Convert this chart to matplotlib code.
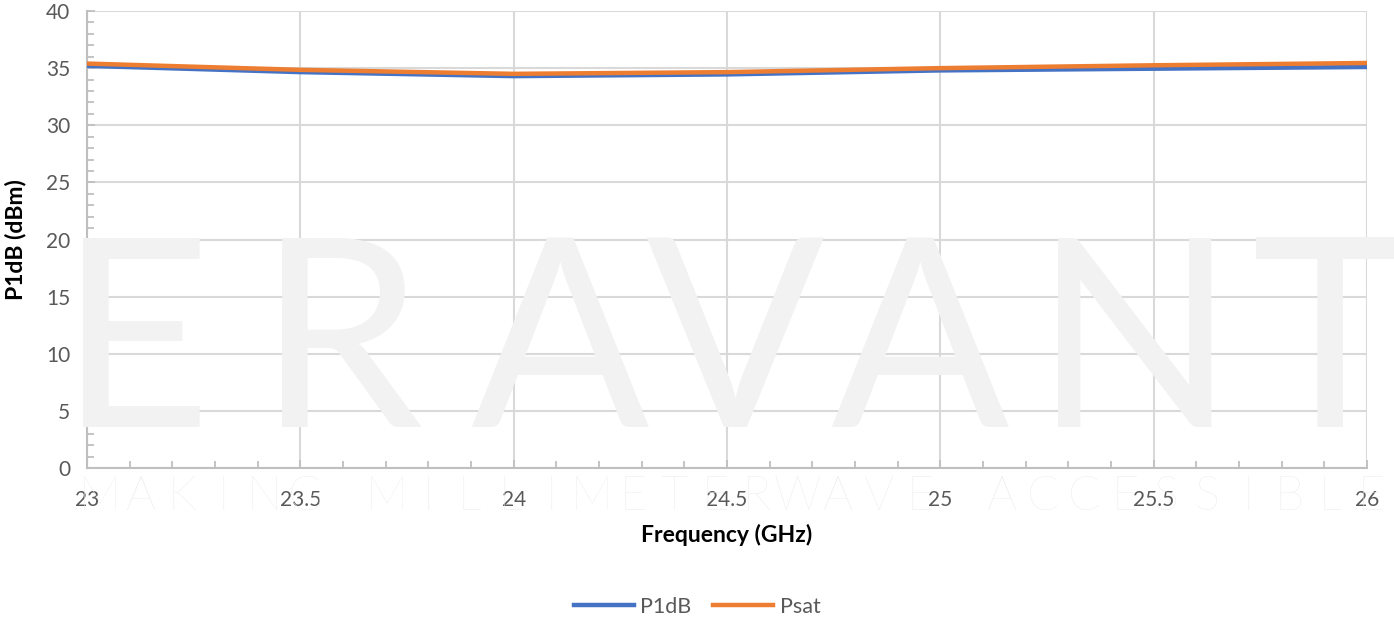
import matplotlib
matplotlib.use("Agg")
import matplotlib.pyplot as plt
from matplotlib.ticker import MultipleLocator

plt.rcParams['font.family'] = ['Lato', 'DejaVu Sans']

freq = [23.0, 23.5, 24.0, 24.5, 25.0, 25.5, 26.0]
p1db = [35.2, 34.65, 34.3, 34.45, 34.8, 34.95, 35.1]
psat = [35.4, 34.85, 34.5, 34.65, 35.0, 35.25, 35.45]
series_names = ["P1dB", "Psat"]
x_label = "Frequency (GHz)"
y_label = "P1dB (dBm)"
wm_big = "ERAVANT"
wm_small = "MAKING MILLIMETERWAVE ACCESSIBLE"

fig = plt.figure(figsize=(13.94, 6.2), dpi=100)
ax = fig.add_axes([87/1394, 152/620, 1280/1394, 457/620])

# watermark
wm_color = "#f2f2f2"
big_x = [135, 340, 560, 735, 920, 1135, 1330]
for ch, xc in zip(wm_big, big_x):
    fig.text(xc/1394, 1 - 352/620, ch, ha="center", va="center",
             fontsize=190, color=wm_color, zorder=0, fontweight="normal")
for i, ch in enumerate(wm_small):
    fig.text((100 + i*41)/1394, 1 - 497/620, ch, ha="center", va="center",
             fontsize=34, color="#ececec", zorder=0, fontweight="light")

ax.patch.set_alpha(0)
ax.plot(freq, p1db, color="#4472C4", lw=3.2, label=series_names[0], zorder=3)
ax.plot(freq, psat, color="#ED7D31", lw=3.2, label=series_names[1], zorder=4)

ax.set_xlim(23, 26)
ax.set_ylim(0, 40)
ax.xaxis.set_major_locator(MultipleLocator(0.5))
ax.xaxis.set_minor_locator(MultipleLocator(0.1))
ax.yaxis.set_major_locator(MultipleLocator(5))
ax.yaxis.set_minor_locator(MultipleLocator(1))
ax.set_xticks([23, 23.5, 24, 24.5, 25, 25.5, 26])
ax.set_xticklabels(["23", "23.5", "24", "24.5", "25", "25.5", "26"])

ax.grid(True, which="major", color="#d9d9d9", lw=1.5, zorder=1)
for s in ["top", "right"]:
    ax.spines[s].set_visible(False)
for s in ["left", "bottom"]:
    ax.spines[s].set_color("#bfbfbf")
    ax.spines[s].set_linewidth(1.5)

ax.tick_params(axis="both", which="both", direction="in", color="#bfbfbf", width=1.3)
ax.tick_params(axis="both", which="major", length=6, labelsize=15, labelcolor="#595959")
ax.tick_params(axis="both", which="minor", length=5)
ax.tick_params(axis="x", which="major", pad=16)
ax.tick_params(axis="y", which="major", pad=12)

ax.set_xlabel(x_label, fontsize=16.5, fontweight="bold", color="black", labelpad=10)
ax.set_ylabel(y_label, fontsize=16.5, fontweight="bold", color="black", labelpad=14)

leg = fig.legend(loc="center", bbox_to_anchor=(0.5, 1 - 607/620), ncol=2, frameon=False,
                 fontsize=15.5, handlelength=2.8, columnspacing=1.0, handletextpad=0.3)
for t in leg.get_texts():
    t.set_color("#595959")

fig.savefig("out.png", dpi=100)
